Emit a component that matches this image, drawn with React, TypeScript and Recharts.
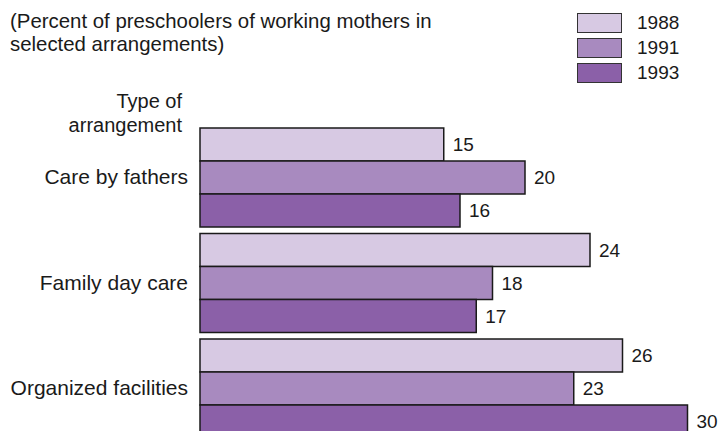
import { Bar, BarChart, LabelList, XAxis, YAxis } from "recharts";

const categories = ["Care by fathers", "Family day care", "Organized facilities"];
const years = ["1988", "1991", "1993"];
const values1988 = [15, 24, 26];
const values1991 = [20, 18, 23];
const values1993 = [16, 17, 30];

const colors = ["#d7c9e3", "#a88abf", "#8b60a8"]; // light, mid, dark purple
const FONT = '"Liberation Sans", Arial, sans-serif';

const data = categories.map((name, i) => ({
  name,
  y1988: values1988[i],
  y1991: values1991[i],
  y1993: values1993[i],
}));

const seriesKeys = ["y1988", "y1991", "y1993"];

function CategoryTick(props: any) {
  const { y, payload } = props;
  return (
    <text
      x={188}
      y={y}
      dy="0.355em"
      textAnchor="end"
      fontSize={21}
      fontFamily={FONT}
      fill="#1a1a1a"
    >
      {payload.value}
    </text>
  );
}

export default function App() {
  return (
    <div
      style={{
        position: "absolute",
        left: 0,
        top: 0,
        width: 725,
        height: 431,
        overflow: "hidden",
        background: "#fff",
        fontFamily: FONT,
        color: "#1a1a1a",
      }}
    >
      <div
        style={{
          position: "absolute",
          left: 10,
          top: 10,
          fontSize: 20.4,
          lineHeight: "23px",
          whiteSpace: "nowrap",
        }}
      >
        (Percent of preschoolers of working mothers in
        <br />
        selected arrangements)
      </div>

      <div
        style={{
          position: "absolute",
          right: 725 - 182,
          top: 89,
          fontSize: 20,
          lineHeight: "24px",
          textAlign: "right",
          whiteSpace: "nowrap",
        }}
      >
        Type of
        <br />
        arrangement
      </div>

      {years.map((yr, i) => (
        <div key={yr}>
          <div
            style={{
              position: "absolute",
              left: 577,
              top: 13 + i * 25,
              width: 45,
              height: 20,
              boxSizing: "border-box",
              background: colors[i],
              border: "1.5px solid #333",
            }}
          />
          <div
            style={{
              position: "absolute",
              left: 637,
              top: 12 + i * 25,
              fontSize: 19,
              lineHeight: "22px",
            }}
          >
            {yr}
          </div>
        </div>
      ))}

      <BarChart
        width={725}
        height={445}
        data={data}
        layout="vertical"
        margin={{ top: 124.25, right: 5, bottom: 4.25, left: 0 }}
        barGap={0}
        barCategoryGap={3.75}
      >
        <XAxis type="number" domain={[0, 32]} hide />
        <YAxis
          type="category"
          dataKey="name"
          width={200}
          axisLine={false}
          tickLine={false}
          tick={<CategoryTick />}
        />
        {seriesKeys.map((k, i) => (
          <Bar
            key={k}
            dataKey={k}
            fill={colors[i]}
            stroke="#1a1a1a"
            strokeWidth={1.5}
            isAnimationActive={false}
          >
            <LabelList
              dataKey={k}
              position="right"
              offset={9}
              fill="#1a1a1a"
              fontSize={19}
              fontFamily={FONT}
            />
          </Bar>
        ))}
      </BarChart>
    </div>
  );
}
